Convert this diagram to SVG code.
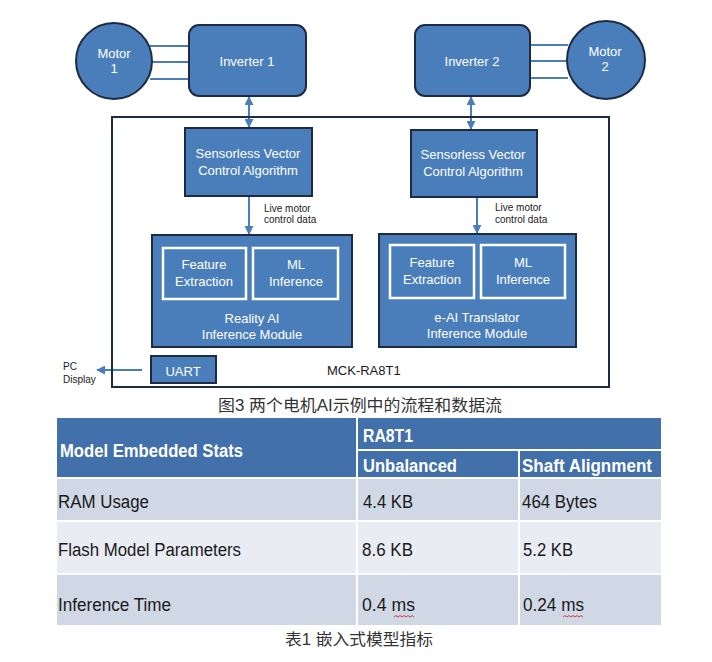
<svg xmlns="http://www.w3.org/2000/svg" width="712" height="662" viewBox="0 0 712 662">
<style>
.blk{fill:#4a7ebb;stroke:#1d2b42;stroke-width:2}
.inner{fill:none;stroke:#ffffff;stroke-width:2.5}
.wt{fill:#ffffff;font-family:"Liberation Sans",Arial,sans-serif;font-size:13px;text-anchor:middle}
.sm{fill:#1a1a1a;font-family:"Liberation Sans",Arial,sans-serif;font-size:10px}
.lbl{fill:#1a1a1a;font-family:"Liberation Sans",Arial,sans-serif;font-size:13px}
.conn{stroke:#4a7ebb;stroke-width:2;fill:none}
.th{fill:#ffffff;font-family:"Liberation Sans",Arial,sans-serif;font-size:18px;font-weight:bold}
.td{fill:#1a1a1a;font-family:"Liberation Sans",Arial,sans-serif;font-size:18px}
.cap{fill:#333333;font-family:"Liberation Sans","Noto Sans CJK SC",sans-serif;font-size:16px}
.sep{stroke:#ffffff;stroke-width:2}
</style>
<defs>
<marker id="ah" viewBox="0 0 10 10" refX="9" refY="5" markerWidth="9" markerHeight="9" markerUnits="userSpaceOnUse" orient="auto-start-reverse">
<path d="M0,0 L10,5 L0,10 z" fill="#4a7ebb"/>
</marker>
</defs>
<rect width="712" height="662" fill="#ffffff"/>

<g id="connectors">
<line class="conn" x1="150" y1="46" x2="190" y2="46"/>
<line class="conn" x1="152" y1="62" x2="190" y2="62"/>
<line class="conn" x1="150" y1="79" x2="190" y2="79"/>
<line class="conn" x1="530" y1="45" x2="568" y2="45"/>
<line class="conn" x1="530" y1="61" x2="567" y2="61"/>
<line class="conn" x1="530" y1="78" x2="568" y2="78"/>
<line class="conn" x1="249" y1="97" x2="249" y2="127" marker-start="url(#ah)" marker-end="url(#ah)"/>
<line class="conn" x1="471" y1="97" x2="471" y2="129" marker-start="url(#ah)" marker-end="url(#ah)"/>
<line class="conn" x1="249" y1="197" x2="249" y2="234" marker-end="url(#ah)"/>
<line class="conn" x1="477" y1="198" x2="477" y2="233" marker-end="url(#ah)"/>
<line class="conn" x1="142" y1="370" x2="97" y2="370" marker-end="url(#ah)"/>
</g>

<g id="motor1">
<circle class="blk" cx="114" cy="61" r="38"/>
<text class="wt" x="114" y="58" font-size="12">Motor</text>
<text class="wt" x="114" y="73" font-size="12">1</text>
</g>
<g id="inverter1">
<rect class="blk" x="189" y="25" width="117" height="71" rx="10"/>
<text class="wt" x="247" y="66">Inverter 1</text>
</g>
<g id="inverter2">
<rect class="blk" x="415" y="25" width="115" height="71" rx="10"/>
<text class="wt" x="472" y="66">Inverter 2</text>
</g>
<g id="motor2">
<circle class="blk" cx="606" cy="60" r="39"/>
<text class="wt" x="605" y="56" font-size="12">Motor</text>
<text class="wt" x="605" y="71" font-size="12">2</text>
</g>

<g id="mck">
<rect x="112" y="117" width="497" height="270" fill="none" stroke="#1d2b42" stroke-width="2"/>
<text class="lbl" x="327" y="375" font-size="13">MCK-RA8T1</text>
</g>

<g id="svc1">
<rect class="blk" x="185" y="128" width="127" height="68"/>
<text class="wt" x="248" y="158">Sensorless Vector</text>
<text class="wt" x="248" y="175">Control Algorithm</text>
</g>
<g id="svc2">
<rect class="blk" x="411" y="130" width="126" height="67"/>
<text class="wt" x="473" y="159">Sensorless Vector</text>
<text class="wt" x="473" y="176">Control Algorithm</text>
</g>
<g id="live1">
<text class="sm" x="264" y="212">Live motor</text>
<text class="sm" x="264" y="223">control data</text>
</g>
<g id="live2">
<text class="sm" x="495" y="211">Live motor</text>
<text class="sm" x="495" y="223">control data</text>
</g>

<g id="reality">
<rect class="blk" x="152" y="235" width="200" height="112"/>
<rect class="inner" x="163" y="248" width="83" height="51"/>
<rect class="inner" x="253" y="248" width="85" height="51"/>
<text class="wt" x="204" y="269">Feature</text>
<text class="wt" x="204" y="286">Extraction</text>
<text class="wt" x="296" y="269">ML</text>
<text class="wt" x="296" y="286">Inference</text>
<text class="wt" x="252" y="323">Reality AI</text>
<text class="wt" x="252" y="339">Inference Module</text>
</g>
<g id="eai">
<rect class="blk" x="379" y="234" width="197" height="113"/>
<rect class="inner" x="390" y="245" width="84" height="53"/>
<rect class="inner" x="481" y="245" width="84" height="53"/>
<text class="wt" x="432" y="267">Feature</text>
<text class="wt" x="432" y="284">Extraction</text>
<text class="wt" x="523" y="267">ML</text>
<text class="wt" x="523" y="284">Inference</text>
<text class="wt" x="477" y="322">e-AI Translator</text>
<text class="wt" x="477" y="338">Inference Module</text>
</g>
<g id="uart">
<rect class="blk" x="151" y="356" width="65" height="27"/>
<text class="wt" x="183" y="376">UART</text>
</g>
<g id="pc">
<text class="sm" x="63" y="370">PC</text>
<text class="sm" x="63" y="383">Display</text>
</g>

<text class="cap" x="218" y="411" textLength="284" lengthAdjust="spacingAndGlyphs">图3 两个电机AI示例中的流程和数据流</text>

<g id="table">
<rect x="57" y="418" width="604" height="60" fill="#4170aa"/>
<rect x="57" y="478" width="604" height="43" fill="#d0d8e6"/>
<rect x="57" y="521" width="604" height="53" fill="#e9ecf3"/>
<rect x="57" y="574" width="604" height="51" fill="#d0d8e6"/>
<line class="sep" x1="357" y1="418" x2="357" y2="625"/>
<line class="sep" x1="519" y1="450" x2="519" y2="625"/>
<line class="sep" x1="357" y1="450" x2="661" y2="450"/>
<line class="sep" x1="57" y1="478" x2="661" y2="478"/>
<line class="sep" x1="57" y1="521" x2="661" y2="521"/>
<line class="sep" x1="57" y1="574" x2="661" y2="574"/>
<text class="th" x="60" y="457" textLength="183" lengthAdjust="spacingAndGlyphs">Model Embedded Stats</text>
<text class="th" x="363" y="442" textLength="50" lengthAdjust="spacingAndGlyphs">RA8T1</text>
<text class="th" x="363" y="472" textLength="94" lengthAdjust="spacingAndGlyphs">Unbalanced</text>
<text class="th" x="522" y="472" textLength="130" lengthAdjust="spacingAndGlyphs">Shaft Alignment</text>
<text class="td" x="58" y="508" textLength="91" lengthAdjust="spacingAndGlyphs">RAM Usage</text>
<text class="td" x="363" y="508" textLength="50" lengthAdjust="spacingAndGlyphs">4.4 KB</text>
<text class="td" x="522" y="508" textLength="75" lengthAdjust="spacingAndGlyphs">464 Bytes</text>
<text class="td" x="58" y="556" textLength="183" lengthAdjust="spacingAndGlyphs">Flash Model Parameters</text>
<text class="td" x="362" y="556" textLength="51" lengthAdjust="spacingAndGlyphs">8.6 KB</text>
<text class="td" x="523" y="556" textLength="50" lengthAdjust="spacingAndGlyphs">5.2 KB</text>
<text class="td" x="58" y="611" textLength="113" lengthAdjust="spacingAndGlyphs">Inference Time</text>
<text class="td" x="362" y="611" textLength="53" lengthAdjust="spacingAndGlyphs">0.4 ms</text>
<text class="td" x="523" y="611" textLength="61" lengthAdjust="spacingAndGlyphs">0.24 ms</text>
<path d="M394,617 l2,-1.5 l2,1.5 l2,-1.5 l2,1.5 l2,-1.5 l2,1.5 l2,-1.5 l2,1.5 l2,-1.5 l2,1.5" fill="none" stroke="#d04040" stroke-width="1"/>
<path d="M563,617 l2,-1.5 l2,1.5 l2,-1.5 l2,1.5 l2,-1.5 l2,1.5 l2,-1.5 l2,1.5 l2,-1.5 l2,1.5" fill="none" stroke="#d04040" stroke-width="1"/>
</g>

<text class="cap" x="285" y="645" font-size="17" textLength="148" lengthAdjust="spacingAndGlyphs">表1 嵌入式模型指标</text>
</svg>
